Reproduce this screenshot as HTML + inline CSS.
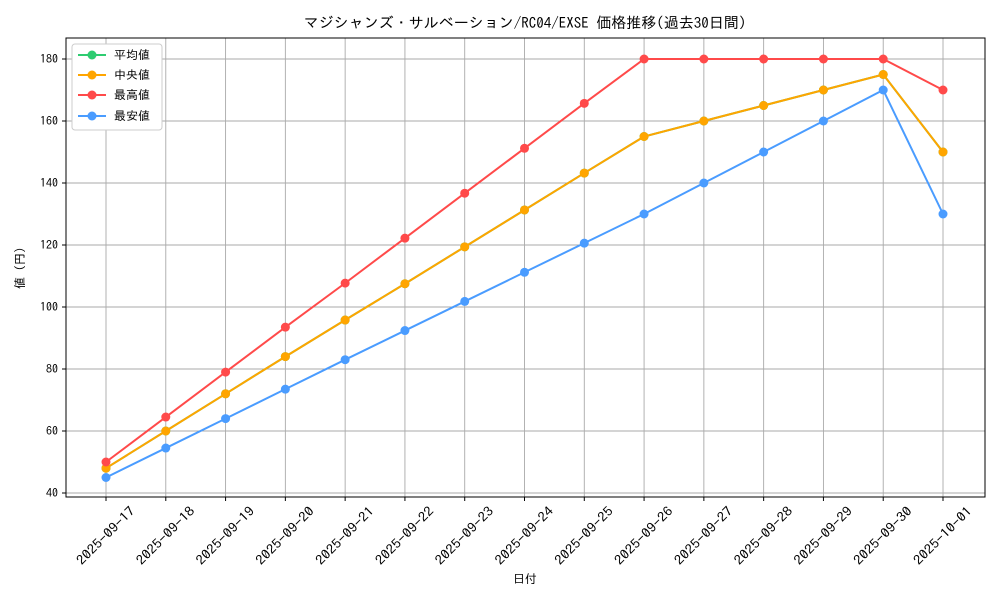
<!DOCTYPE html>
<html><head><meta charset="utf-8"><style>
body{margin:0;background:#fff}
svg text{font-family:"IPAGothic","Noto Sans CJK JP",sans-serif;fill:#000}
</style></head><body>
<svg width="1000" height="600" xmlns="http://www.w3.org/2000/svg">
<rect width="1000" height="600" fill="#fff"/>
<text x="525" y="28" font-size="15" text-anchor="middle">マジシャンズ・サルベーション/RC04/EXSE 価格推移(過去30日間)</text>
<g id="grid" stroke="#aaaaaa" stroke-width="0.9"></g>
<rect x="66" y="38" width="919" height="459" fill="none" stroke="#000" stroke-width="1"/>
<g id="ticks" font-size="12"></g>
<text x="525" y="583" font-size="12" text-anchor="middle">日付</text>
<text transform="translate(24,268) rotate(-90)" font-size="12" text-anchor="middle">値 (円)</text>
<g id="series"></g>
<g font-size="12">
<rect x="72" y="44" width="90" height="86" fill="#fff" stroke="#ccc" rx="3"/>
<line x1="78" y1="55" x2="106" y2="55" stroke="#2ecc71" stroke-width="2"/><circle cx="92" cy="55" r="4.5" fill="#2ecc71"/><text x="114" y="59">平均値</text>
<line x1="78" y1="75" x2="106" y2="75" stroke="#ffa500" stroke-width="2"/><circle cx="92" cy="75" r="4.5" fill="#ffa500"/><text x="114" y="79">中央値</text>
<line x1="78" y1="95" x2="106" y2="95" stroke="#ff4a4a" stroke-width="2"/><circle cx="92" cy="95" r="4.5" fill="#ff4a4a"/><text x="114" y="99">最高値</text>
<line x1="78" y1="116" x2="106" y2="116" stroke="#4a9cff" stroke-width="2"/><circle cx="92" cy="116" r="4.5" fill="#4a9cff"/><text x="114" y="120">最安値</text>
</g>
</svg>
<script>
const NS="http://www.w3.org/2000/svg";
const X=i=>106+i*59.786, Y=v=>493-(v-40)*3.1;
function el(p,t,a,txt){const e=document.createElementNS(NS,t);for(const k in a)e.setAttribute(k,a[k]);if(txt)e.textContent=txt;document.getElementById(p).appendChild(e);}
const dates=[];for(let d=17;d<=30;d++)dates.push("2025-09-"+d);dates.push("2025-10-01");
dates.forEach((d,i)=>{const x=X(i);el("grid","line",{x1:x,y1:38,x2:x,y2:497});
el("ticks","line",{x1:x,y1:497,x2:x,y2:501,stroke:"#000"});
el("ticks","text",{x:x,y:540,"text-anchor":"middle","font-size":13,textLength:76,lengthAdjust:"spacingAndGlyphs",transform:`rotate(-45 ${x} 536)`},d);});
for(let v=40;v<=180;v+=20){const y=Y(v);el("grid","line",{x1:66,y1:y,x2:985,y2:y});
el("ticks","line",{x1:62,y1:y,x2:66,y2:y,stroke:"#000"});
el("ticks","text",{x:58,y:y+4,"text-anchor":"end"},v);}
const med=[48,60,72,84,95.8,107.5,119.4,131.3,143.2,155,160,165,170,175,150];
const mx=[50,64.5,79,93.5,107.7,122.2,136.7,151.2,165.7,180,180,180,180,180,170];
const mn=[45,54.5,64,73.5,83,92.4,101.8,111.2,120.6,130,140,150,160,170,130];
function s(d,c){el("series","polyline",{points:d.map((v,i)=>X(i)+","+Y(v)).join(" "),fill:"none",stroke:c,"stroke-width":2});
d.forEach((v,i)=>el("series","circle",{cx:X(i),cy:Y(v),r:4.5,fill:c}));}
s(med,"#2ecc71");s(med,"#ffa500");s(mx,"#ff4a4a");s(mn,"#4a9cff");
</script>
</body></html>
